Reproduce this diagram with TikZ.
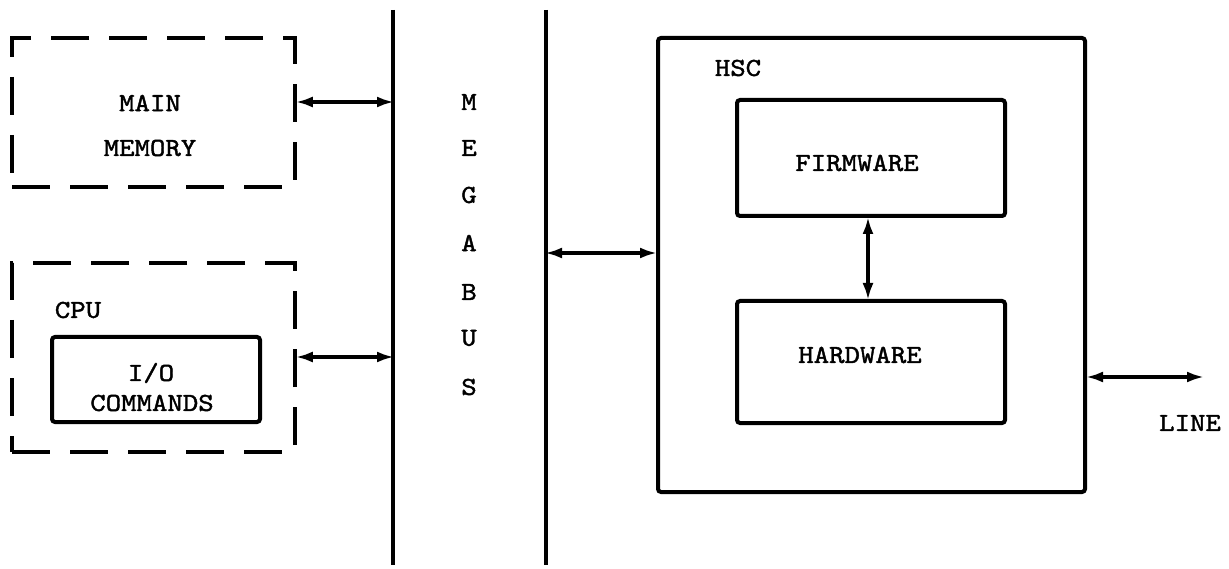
\documentclass[tikz,border=0pt]{standalone}
\usepackage{fontspec}
\usetikzlibrary{arrows.meta}
\newfontfamily\twfont{lmmono10-regular.otf}[FakeStretch=1.13,FakeBold=1.6]
\tikzset{
  every node/.style={font=\twfont\fontsize{26}{30}\selectfont, inner sep=0pt},
  dbox/.style={draw, line width=3.5pt, dash pattern=on 38pt off 20pt, rectangle},
  sbox/.style={draw, line width=4pt, rectangle, rounded corners=3pt},
  bus/.style={line width=3.5pt},
  link/.style={line width=3.2pt, shorten <=-1pt, shorten >=-1pt, {Latex[length=17pt,width=11pt]}-{Latex[length=17pt,width=11pt]}},
  lbl/.style={anchor=center},
}
\begin{document}
\begin{tikzpicture}[x=1pt,y=-1pt]
\useasboundingbox (0,0) rectangle (1229,569);
% buses
\coordinate (b1t) at (393,10);
\coordinate (b1b) at (393,565);
\coordinate (b2t) at (546,10);
\coordinate (b2b) at (546,565);
\draw[bus] (b1t) -- (b1b);
\draw[bus] (b2t) -- (b2b);
% main memory
\node[dbox, minimum width=283pt, minimum height=149pt] (mem) at (153.5,112.5) {};
\node[lbl] (mem1) at (150,103) {MAIN};
\node[lbl] (mem2) at (150,148) {MEMORY};
% cpu
\node[dbox, minimum width=283pt, minimum height=189pt] (cpu) at (153.5,357.5) {};
\node[lbl] (cpul) at (78,310) {CPU};
\node[sbox, minimum width=208pt, minimum height=85pt] (io) at (156,379.5) {};
\node[lbl] (io1) at (151,373) {I/O};
\node[lbl] (io2) at (152,403) {COMMANDS};
% megabus letters
\node (m1) at (469,102) {M};
\node (m2) at (469,148) {E};
\node (m3) at (469,195) {G};
\node (m4) at (469,243) {A};
\node (m5) at (469,292) {B};
\node (m6) at (469,338) {U};
\node (m7) at (469,387) {S};
% HSC
\node[sbox, minimum width=427pt, minimum height=454pt] (hsc) at (871.5,265) {};
\node[lbl] (hscl) at (738,68) {HSC};
\node[sbox, minimum width=268pt, minimum height=116pt] (fw) at (871,158) {};
\node[lbl] (fwl) at (857,163) {FIRMWARE};
\node[sbox, minimum width=268pt, minimum height=122pt] (hw) at (871,362) {};
\node[lbl] (hwl) at (860,355) {HARDWARE};
\coordinate (lineend) at (1203,377);
\node[lbl] (linel) at (1190,423) {LINE};
% connectors
\draw[link] (mem.east |- 0,102) -- (b1t |- 0,102);
\draw[link] (cpu.east |- 0,357) -- (b1t |- 0,357);
\draw[link] (b2t |- 0,253) -- (hsc.west |- 0,253);
\draw[link] (fw.south -| 868,0) -- (hw.north -| 868,0);
\draw[link] (hsc.east |- lineend) -- (lineend);
\end{tikzpicture}
\end{document}
